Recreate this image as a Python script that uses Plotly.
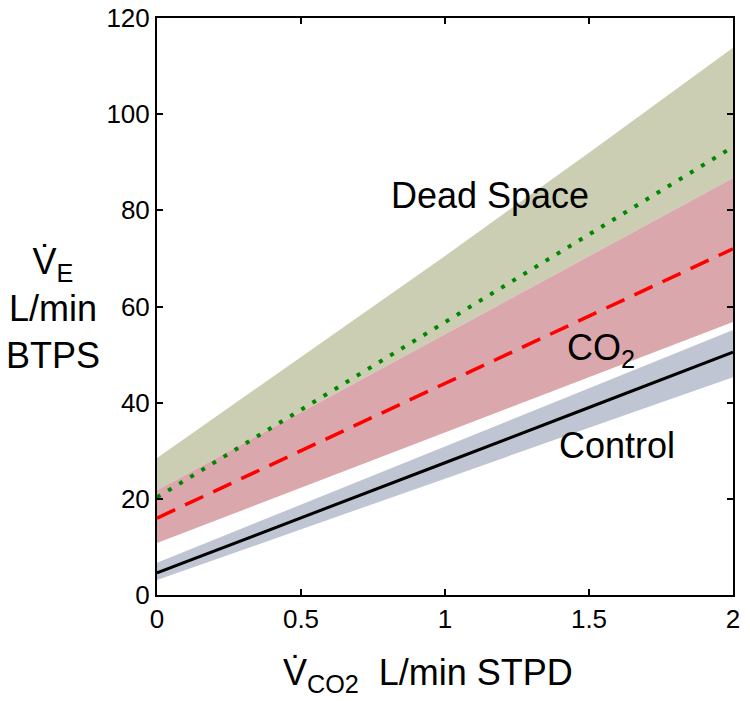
import plotly.graph_objects as go

# x values (L/min STPD) at which bands/lines are read
vco2 = [0, 0.5, 1.0, 1.5, 2.0]

# Dead space
dead_upper = [28.5, 49.5, 70.5, 92.0, 113.8]
dead_mean = [20.3, 38.5, 56.8, 75.0, 93.2]
# CO2
co2_upper = [21.8, 38.0, 54.2, 70.5, 86.7]
co2_mean = [16.0, 30.0, 44.0, 58.0, 72.0]
co2_lower = [10.8, 22.3, 33.8, 45.3, 56.8]
# Control
ctrl_upper = [6.7, 18.8, 30.9, 43.0, 55.1]
ctrl_mean = [4.6, 16.0, 27.5, 39.0, 50.5]
ctrl_lower = [3.1, 13.6, 24.2, 34.8, 45.3]

xticks = [0, 0.5, 1, 1.5, 2]
yticks = [0, 20, 40, 60, 80, 100, 120]

fig = go.Figure()

def band(lo, hi, color):
    fig.add_trace(go.Scatter(x=vco2, y=lo, mode="lines", line=dict(width=0),
                             showlegend=False, hoverinfo="skip"))
    fig.add_trace(go.Scatter(x=vco2, y=hi, mode="lines", line=dict(width=0),
                             fill="tonexty", fillcolor=color,
                             showlegend=False, hoverinfo="skip"))

band(co2_upper, dead_upper, "rgb(203,206,178)")
band(co2_lower, co2_upper, "rgb(218,168,172)")
band(ctrl_lower, ctrl_upper, "rgb(192,197,212)")

fig.add_trace(go.Scatter(x=vco2, y=dead_mean, mode="lines",
                         line=dict(color="rgb(0,135,0)", width=4, dash="4px,9px"),
                         showlegend=False))
fig.add_trace(go.Scatter(x=vco2, y=co2_mean, mode="lines",
                         line=dict(color="rgb(255,0,0)", width=3.5, dash="20px,11px"),
                         showlegend=False))
fig.add_trace(go.Scatter(x=vco2, y=ctrl_mean, mode="lines",
                         line=dict(color="black", width=3),
                         showlegend=False))

font = "Liberation Sans, Arial, sans-serif"
lab = dict(size=36, color="black", family=font)

fig.add_annotation(x=1.156, y=83, text="Dead Space", showarrow=False, font=lab)
fig.add_annotation(x=1.54, y=51, text="CO<sub>2</sub>", showarrow=False, font=lab)
fig.add_annotation(x=1.597, y=31, text="Control", showarrow=False, font=lab)

# y-axis title (stacked)
fig.add_annotation(xref="paper", yref="paper", x=-0.18, y=0.497,
                   text="V̇<sub>E</sub><br>L/min<br>BTPS", showarrow=False,
                   align="center", xanchor="center", yanchor="middle",
                   font=lab)
# x-axis title
fig.add_annotation(xref="paper", yref="paper", x=0.47, y=-0.139,
                   text="V̇<sub>CO2</sub>  L/min STPD", showarrow=False,
                   xanchor="center", yanchor="middle", font=lab)

axis_common = dict(showline=True, linecolor="black", linewidth=2, mirror="ticks",
                   ticks="inside", ticklen=6, tickwidth=2, tickcolor="black",
                   showgrid=False, zeroline=False,
                   tickfont=dict(size=26, color="black", family=font))

fig.update_xaxes(range=[0, 2], tickvals=xticks, ticktext=["0", "0.5", "1", "1.5", "2"],
                 **axis_common)
fig.update_yaxes(range=[0, 120], tickvals=yticks, ticklabeloverflow="allow", **axis_common)

fig.update_layout(width=750, height=701, plot_bgcolor="white", paper_bgcolor="white",
                  margin=dict(l=157, r=17, t=18, b=106, autoexpand=False),
                  showlegend=False)

# drop the default 8px page margin so the figure fills the window
fig.write_html("out.html", config={"displayModeBar": False},
               post_script="document.body.style.margin = '0';")
